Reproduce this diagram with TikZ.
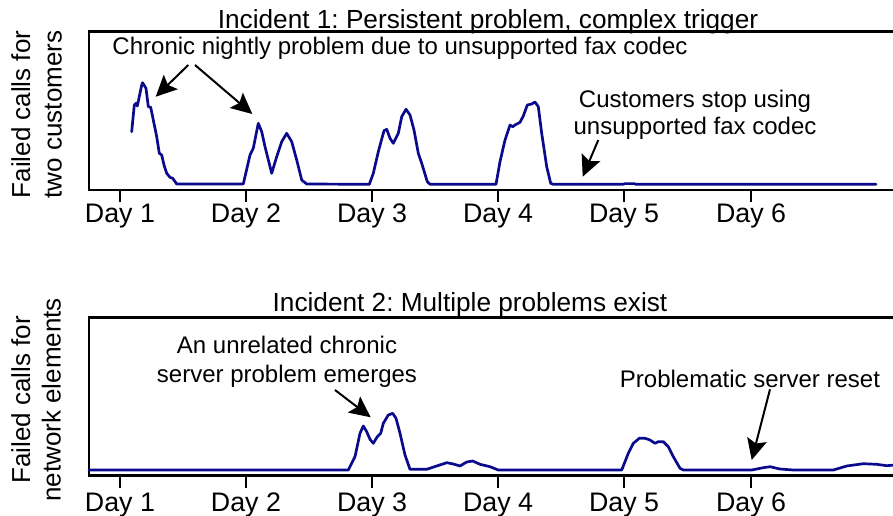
\documentclass[tikz,border=0pt]{standalone}
\usepackage{fontspec}
\setmainfont{Liberation Sans}
\usetikzlibrary{arrows.meta}
\frenchspacing
\definecolor{curveblue}{RGB}{10,10,140}
\tikzset{
  frame/.style={line width=2.6pt, line cap=butt, line join=miter},
  tick/.style={line width=2.2pt},
  curve/.style={curveblue, line width=2.7pt, line join=round, line cap=round},
  note/.style={font=\fontsize{24}{28}\selectfont, align=center, anchor=base, inner sep=0pt},
  ttl/.style={font=\fontsize{26.2}{30}\selectfont, anchor=base, inner sep=0pt},
  daylbl/.style={font=\fontsize{26.8}{30}\selectfont, anchor=base, inner sep=0pt},
  ylbl/.style={font=\fontsize{26}{30}\selectfont, rotate=90, anchor=base, inner sep=0pt},
  pointer/.style={line width=2pt, -{Stealth[length=21pt,width=20pt,inset=4pt]}}
}
\begin{document}
\begin{tikzpicture}[x=1pt,y=-1pt]
\clip (0,0) rectangle (893,516);
\fill[white] (0,0) rectangle (893,516);

% ---------------- Panel 1 ----------------
\draw[frame] (900,31.7) -- (89,31.7) -- (89,190) -- (900,190);
\foreach \x/\d in {120/1,246/2,372/3,498/4,624/5,751/6}{
  \draw[tick] (\x,190) -- (\x,201.7);
  \node[daylbl] (t1d\d) at (\x,222.7) {Day \d};
}
\node[ttl] (title1) at (488,29) {Incident 1: Persistent problem, complex trigger};
\node[ylbl] (y1a) at (30,114.5) {Failed calls for};
\node[ylbl] (y1b) at (61.5,114.5) {two customers};

\draw[curve] (131.7,131.7) -- (134.3,105) -- (136,103.3) -- (137.3,106) -- (139,98) -- (141.5,86) -- (142.5,82.7)
  -- (144,85) -- (146,88.3) -- (148.3,106.7) -- (150.7,107.3) -- (153.3,120) -- (156.7,136.7)
  -- (159.3,153.3) -- (161.7,155) -- (164,165) -- (166.7,173.3) -- (170,177.3) -- (172.7,178.3)
  -- (176.7,184) -- (243.3,184) -- (250,155) -- (253.3,148.3) -- (258.3,123.3) -- (261.7,131.7)
  -- (265,146.7) -- (271.7,173.3) -- (276.7,156.7) -- (281.7,141.7) -- (286.7,133.3) -- (291.7,141.7)
  -- (296.7,160) -- (301.7,180) -- (306.7,184) -- (369.3,184.3) -- (373.3,173.3) -- (378.3,151.7)
  -- (384,130.7) -- (386.7,129.3) -- (390,138.3) -- (393.3,143.3) -- (398.3,133.3) -- (401.7,116.7)
  -- (406,109.3) -- (410,115) -- (414,130) -- (418.3,153.3) -- (421.7,163.3) -- (427.3,181.7)
  -- (430,184.3) -- (496,184.3) -- (500,161.7) -- (505,140) -- (510,125) -- (512.7,126.7)
  -- (515,125) -- (520,122.3) -- (523.3,116) -- (527.3,105) -- (531.7,104) -- (535,102)
  -- (538.3,106.7) -- (541.7,133.3) -- (546.7,166.7) -- (550.7,183.3) -- (553.3,184.3)
  -- (623,184.3) -- (625,183.6) -- (634,183.6) -- (636,184.3) -- (876,184.3);

\node[note] (n1) at (400,54.3) {Chronic nightly problem due to unsupported fax codec};
\coordinate (n1s1) at (188.3,65);
\coordinate (n1s2) at (195,65);
\coordinate (p1a) at (155.7,96.7);
\coordinate (p1b) at (252.3,114);
\draw[pointer] (n1s1) -- (p1a);
\draw[pointer] (n1s2) -- (p1b);

\node[note] (n2) at (695,107.3) {Customers stop using};
\node[note] (n2b) at (695,134.3) {unsupported fax codec};
\coordinate (n2s) at (598.3,140);
\coordinate (p2) at (582.7,176.7);
\draw[pointer] (n2s) -- (p2);

% ---------------- Panel 2 ----------------
\draw[frame] (900,317.3) -- (89,317.3) -- (89,475.7) -- (900,475.7);
\foreach \x/\d in {120/1,246/2,372/3,498/4,624/5,751/6}{
  \draw[tick] (\x,475.7) -- (\x,488);
  \node[daylbl] (t2d\d) at (\x,511) {Day \d};
}
\node[ttl] (title2) at (470,311.7) {Incident 2: Multiple problems exist};
\node[ylbl] (y2a) at (30,400) {Failed calls for};
\node[ylbl] (y2b) at (60.5,400) {network elements};

\draw[curve] (89,470) -- (348.3,470) -- (355,456.7) -- (360,433.3) -- (363.3,426) -- (366.7,431.7)
  -- (370,439.3) -- (373.3,443.3) -- (377.3,436.7) -- (380.7,433.3) -- (383.3,423.3) -- (388.3,415)
  -- (392.7,413.3) -- (396,418.3) -- (400,433.3) -- (405,455) -- (410,469.3) -- (426.7,469.3)
  -- (436.7,466) -- (446.7,462.7) -- (453.3,464) -- (460,466) -- (466.7,462) -- (472.7,461)
  -- (480,464.3) -- (490,466.7) -- (498.3,470) -- (621.7,470) -- (628.3,453.3) -- (633.3,443.3)
  -- (639.3,438.3) -- (645,438.3) -- (650,440) -- (655,443.3) -- (658.3,441.7) -- (663.3,441.7)
  -- (668.3,446.7) -- (673.3,456.7) -- (680,468.3) -- (683.3,470) -- (751.7,470) -- (763.3,467.7)
  -- (770,466.7) -- (780,469) -- (793.3,470) -- (833.3,470) -- (846.7,466) -- (863.3,463.7)
  -- (876.7,464.3) -- (886.7,465.7) -- (895,465);

\node[note] (n3) at (287,353.3) {An unrelated chronic};
\node[note] (n3b) at (287,382.3) {server problem emerges};
\coordinate (n3s) at (335,390);
\coordinate (p3) at (370.7,417.3);
\draw[pointer] (n3s) -- (p3);

\node[note] (n4) at (750,387.3) {Problematic server reset};
\coordinate (n4s) at (770,389.3);
\coordinate (p4) at (751.7,460);
\draw[pointer] (n4s) -- (p4);
\end{tikzpicture}
\end{document}
